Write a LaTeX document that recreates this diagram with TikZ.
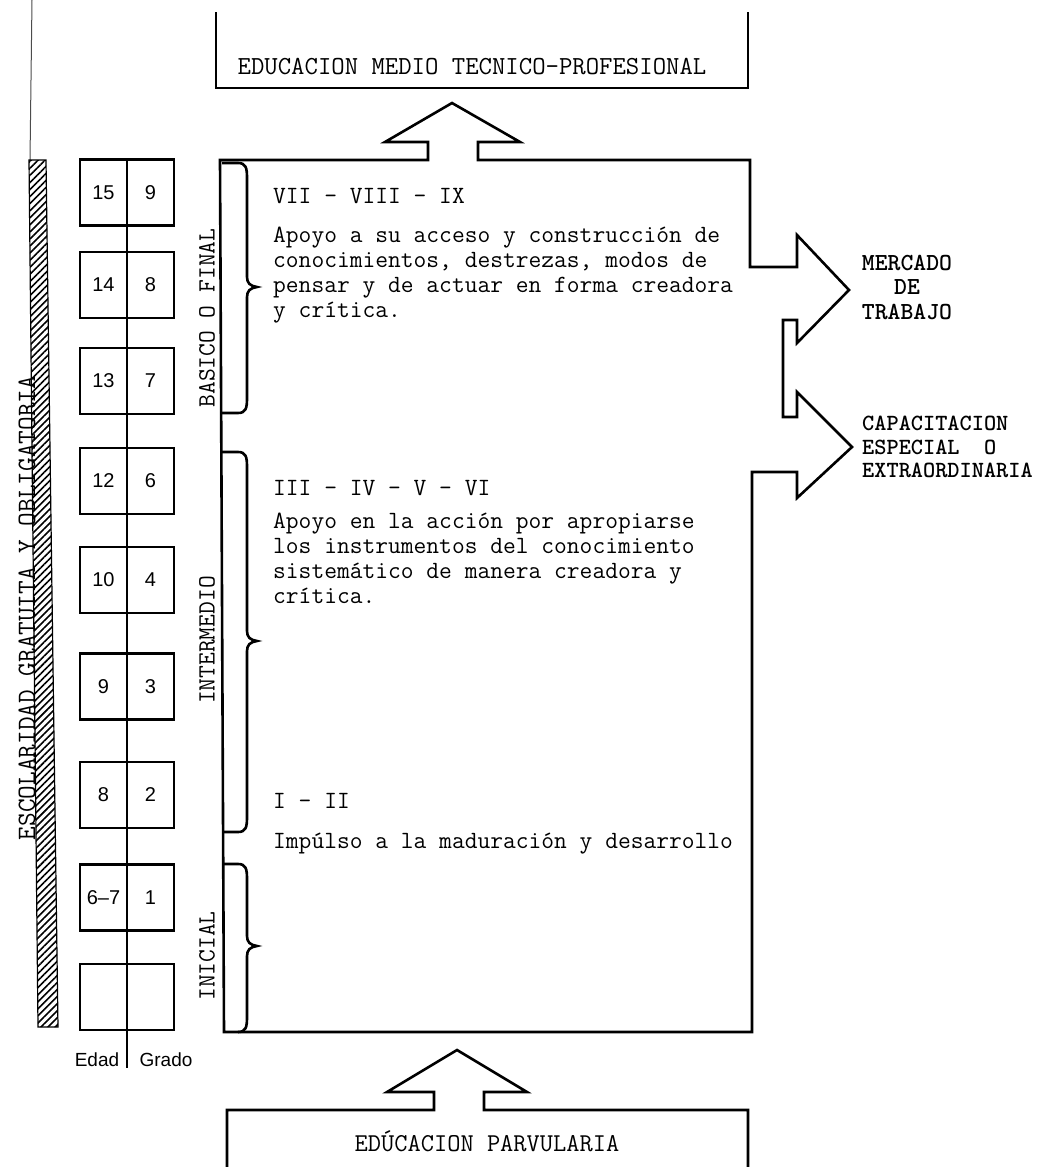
\documentclass[tikz,border=0pt]{standalone}
\usepackage{fontspec}
\setmainfont{Liberation Serif}
\setsansfont{Liberation Sans}
\usetikzlibrary{patterns.meta}

\tikzstyle{ln}=[line width=2.6pt, line join=miter]
\tikzstyle{brc}=[line width=2.6pt]
\tikzstyle{cell}=[draw, line width=2.6pt, minimum width=47pt, minimum height=66pt, inner sep=0pt, font=\sffamily\fontsize{20}{20}\selectfont]
\tikzstyle{txt}=[inner sep=0pt, align=left, font=\ttfamily\fontsize{24.8}{25}\selectfont]
\tikzstyle{side}=[inner sep=0pt, rotate=90, font=\ttfamily\fontsize{24.8}{25}\selectfont]
\tikzstyle{dest}=[inner sep=0pt, font=\ttfamily\bfseries\fontsize{24.5}{24.5}\selectfont]

\begin{document}
\begin{tikzpicture}[x=1pt, y=-1pt]
  \useasboundingbox (0,0) rectangle (1055,1167);

  % franja lateral
  \draw[line width=1pt, black!70] (32,0) -- (30,160);
  \fill[pattern={Lines[angle=45, distance=5pt, line width=1.6pt]}] (29,160) -- (46,160) -- (58,1027) -- (38,1027) -- cycle;
  \draw[line width=1.2pt] (29,160) -- (46,160) -- (58,1027) -- (38,1027) -- cycle;
  \node[side, font=\ttfamily\fontsize{26.5}{25}\selectfont] (escol) at (27,608) {ESCOLARIDAD GRATUITA Y OBLIGATORIA};

  % edad / grado
  \coordinate (dtop) at (127,162);
  \coordinate (dbot) at (127,1068);
  \node[cell] (e15) at (103.5,192.5) {15};
  \node[cell] (g9) at (150.5,192.5) {9};
  \node[cell] (e14) at (103.5,285) {14};
  \node[cell] (g8) at (150.5,285) {8};
  \node[cell] (e13) at (103.5,381) {13};
  \node[cell] (g7) at (150.5,381) {7};
  \node[cell] (e12) at (103.5,481) {12};
  \node[cell] (g6) at (150.5,481) {6};
  \node[cell] (e10) at (103.5,580) {10};
  \node[cell] (g4) at (150.5,580) {4};
  \node[cell] (e9) at (103.5,686.5) {9};
  \node[cell] (g3) at (150.5,686.5) {3};
  \node[cell] (e8) at (103.5,795) {8};
  \node[cell] (g2) at (150.5,795) {2};
  \node[cell] (e67) at (103.5,897.5) {6--7};
  \node[cell] (g1) at (150.5,897.5) {1};
  \node[cell] (e0) at (103.5,997) {};
  \node[cell] (g0) at (150.5,997) {};
  \path (dtop) edge [line width=2pt] (dbot);
  \node[font=\sffamily\fontsize{19}{19}\selectfont] (edad) at (97,1060) {Edad};
  \node[font=\sffamily\fontsize{19}{19}\selectfont] (grado) at (166,1060) {Grado};

  % niveles
  \node[side] (basico) at (207,318) {BASICO O FINAL};
  \node[side] (interm) at (207,640) {INTERMEDIO};
  \node[side] (inicial) at (207,956) {INICIAL};

  % caja principal con flechas
  \draw[ln] (220,160) -- (428,160) -- (428,142) -- (385,142) -- (452,103) -- (520,142) -- (478,142) -- (478,160) -- (750,160) -- (750,267) -- (797,267) -- (797,235) -- (849,290) -- (797,343) -- (797,320) -- (783,320) -- (783,417) -- (797,417) -- (797,392) -- (852,447) -- (797,498) -- (797,472) -- (752,472) -- (752,1032) -- (224,1032) -- cycle;

  \draw[brc] (222,163) -- (238,163) .. controls (246,163) and (247,168) .. (247,178) -- (247,277) .. controls (247,283) and (250,286) .. (257,287) .. controls (250,288) and (247,291) .. (247,297) -- (247,398) .. controls (247,408) and (246,413) .. (238,413) -- (222,413);
  \draw[brc] (222,452) -- (238,452) .. controls (246,452) and (247,457) .. (247,467) -- (247,631) .. controls (247,637) and (250,640) .. (257,641) .. controls (250,642) and (247,645) .. (247,651) -- (247,817) .. controls (247,827) and (246,832) .. (238,832) -- (222,832);
  \draw[brc] (222,864) -- (238,864) .. controls (246,864) and (247,869) .. (247,879) -- (247,936) .. controls (247,942) and (250,945) .. (257,946) .. controls (250,947) and (247,950) .. (247,956) -- (247,1017) .. controls (247,1027) and (246,1032) .. (238,1032);

  \node[txt, anchor=base west] (t1) at (273,203) {VII - VIII - IX};
  \node[txt, anchor=base west] (d1) at (273,317) {Apoyo a su acceso y construcción de\\conocimientos, destrezas, modos de\\pensar y de actuar en forma creadora\\y crítica.};
  \node[txt, anchor=base west] (t2) at (273,495) {III - IV - V - VI};
  \node[txt, anchor=base west] (d2) at (273,603) {Apoyo en la acción por apropiarse\\los instrumentos del conocimiento\\sistemático de manera creadora y\\crítica.};
  \node[txt, anchor=base west] (t3) at (273,808) {I - II};
  \node[txt, anchor=base west] (d3) at (273,848) {Impúlso a la maduración y desarrollo};

  % cajas superior e inferior
  \draw[ln] (216,12) -- (216,88) -- (748,88) -- (748,12);
  \node[txt, anchor=base, font=\ttfamily\fontsize{26}{25}\selectfont] (medio) at (472,74) {EDUCACION MEDIO TECNICO-PROFESIONAL};
  \draw[ln] (227,1167) -- (227,1110) -- (434,1110) -- (434,1092) -- (387,1092) -- (457,1050) -- (527,1092) -- (484,1092) -- (484,1110) -- (748,1110) -- (748,1167);
  \node[txt, anchor=base, font=\ttfamily\fontsize{25.7}{25}\selectfont] (parv) at (487,1151) {EDÚCACION PARVULARIA};

  % salidas
  \node[dest, align=center] (mercado) at (907,287) {MERCADO\\DE\\TRABAJO};
  \node[dest, align=left, anchor=west, font=\ttfamily\bfseries\fontsize{23.2}{23.5}\selectfont] (capac) at (862,447) {CAPACITACION\\ESPECIAL\ \ O\\EXTRAORDINARIA};
\end{tikzpicture}
\end{document}
